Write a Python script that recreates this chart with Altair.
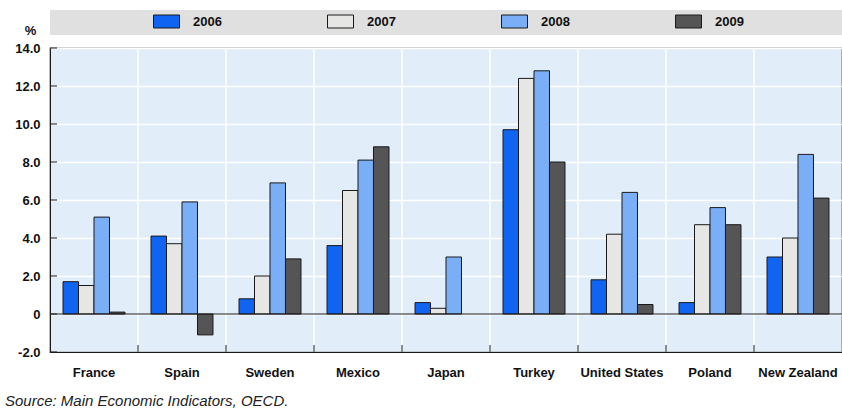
import altair as alt
import pandas as pd

# Consumer price inflation by country, 2006-2009 (%)
countries = ["France", "Spain", "Sweden", "Mexico", "Japan", "Turkey",
             "United States", "Poland", "New Zealand"]
years = ["2006", "2007", "2008", "2009"]
v2006 = [1.7, 4.1, 0.8, 3.6, 0.6, 9.7, 1.8, 0.6, 3.0]
v2007 = [1.5, 3.7, 2.0, 6.5, 0.3, 12.4, 4.2, 4.7, 4.0]
v2008 = [5.1, 5.9, 6.9, 8.1, 3.0, 12.8, 6.4, 5.6, 8.4]
v2009 = [0.1, -1.1, 2.9, 8.8, None, 8.0, 0.5, 4.7, 6.1]
y_ticks = [-2, 0, 2, 4, 6, 8, 10, 12, 14]
colors = ["#0f64f2", "#e6e6e4", "#7aaef7", "#555555"]

rows = []
for series, year in zip([v2006, v2007, v2008, v2009], years):
    for c, v in zip(countries, series):
        if v is not None:
            rows.append({"country": c, "year": year, "value": v})
df = pd.DataFrame(rows)
bounds = pd.DataFrame({"country": countries[1:]})
ticks = pd.DataFrame({"v": y_ticks})

W, H = 792, 304
FONT = "Liberation Sans"

x_scale = alt.Scale(domain=countries, paddingInner=0, paddingOuter=0)
y_scale = alt.Scale(domain=[-2, 14], nice=False, zero=False)

x_axis = alt.Axis(labelAngle=0, ticks=False, domain=True,
                  domainColor="#1a1a1a", labelFont=FONT,
                  labelFontWeight="bold", labelFontSize=13,
                  labelColor="#111", labelPadding=14, grid=False,
                  labelOverlap=False, title=None)
y_axis = alt.Axis(values=y_ticks, ticks=False, labelPadding=10,
                  labelOverlap=False,
                  labelExpr="datum.value == 0 ? '0' : (datum.value < 0 ? '-' + format(-datum.value, '.1f') : format(datum.value, '.1f'))",
                  labelFont=FONT, labelFontWeight="bold",
                  labelFontSize=13, labelColor="#111",
                  grid=True, gridColor="white", gridWidth=1.5,
                  domainColor="#1a1a1a", title="%",
                  titleAngle=0, titleX=-20, titleY=-18,
                  titleAlign="center", titleBaseline="middle",
                  titleFont=FONT, titleFontSize=13,
                  titleFontWeight="bold", titleColor="#111")

# grey strip behind the legend
band = alt.Chart(pd.DataFrame({"k": [0]})).mark_rect(color="#e0e0e0").encode(
    x=alt.value(0), x2=alt.value(W), y=alt.value(-38), y2=alt.value(-13)
)

vgrid = alt.Chart(bounds).mark_rule(color="white", strokeWidth=1.5).encode(
    x=alt.X("country:N", scale=x_scale, bandPosition=0, axis=x_axis),
    y=alt.Y(datum=-2, scale=y_scale, axis=y_axis),
    y2=alt.datum(14),
)

bars = alt.Chart(df).mark_bar(stroke="#1a1a1a", strokeWidth=1).encode(
    x=alt.X("country:N", scale=x_scale, sort=countries, axis=x_axis),
    xOffset=alt.XOffset("year:N", sort=years,
                        scale=alt.Scale(paddingInner=0, paddingOuter=0.84)),
    y=alt.Y("value:Q", scale=y_scale, axis=y_axis),
    fill=alt.Fill("year:N", sort=years,
                  scale=alt.Scale(domain=years, range=colors),
                  legend=alt.Legend(
                      title=None, orient="none", direction="horizontal",
                      columns=4, columnPadding=103, legendX=103, legendY=-40,
                      symbolType="M-1,-0.5H1V0.5H-1Z", symbolSize=676,
                      symbolStrokeColor="#1a1a1a", symbolStrokeWidth=1,
                      labelFont=FONT, labelFontWeight="bold",
                      labelFontSize=13, labelColor="#111",
                      labelOffset=13, padding=0)),
)

zero = alt.Chart(pd.DataFrame({"k": [0]})).mark_rule(
    color="#1a1a1a", strokeWidth=1.2).encode(
    y=alt.Y(datum=0, scale=y_scale, axis=y_axis))

ytick_marks = alt.Chart(ticks).mark_rule(color="#1a1a1a").encode(
    y=alt.Y("v:Q", scale=y_scale, axis=y_axis), x=alt.value(0), x2=alt.value(7)
)

xtick_marks = alt.Chart(bounds).mark_rule(color="#1a1a1a").encode(
    x=alt.X("country:N", scale=x_scale, bandPosition=0, axis=x_axis),
    y=alt.Y(datum=-2, scale=y_scale, axis=y_axis),
    y2=alt.datum(-1.63),
)

chart = alt.layer(band, vgrid, bars, zero, ytick_marks, xtick_marks).properties(
    width=W, height=H,
    background="white",
    autosize=alt.AutoSizeParams(type="none"),
    padding={"left": 50, "top": 48, "right": 0, "bottom": 60},
    title=alt.TitleParams(
        "Source: Main Economic Indicators, OECD.", orient="bottom",
        anchor="start", frame="group", dx=-45, offset=15,
        font=FONT, fontSize=15, fontStyle="italic", fontWeight="normal",
        color="#222"),
).configure_view(fill="#e2edfa", stroke="#1a1a1a", strokeWidth=1.2)

chart.save("out.html", embed_options={"renderer": "svg", "actions": False})
